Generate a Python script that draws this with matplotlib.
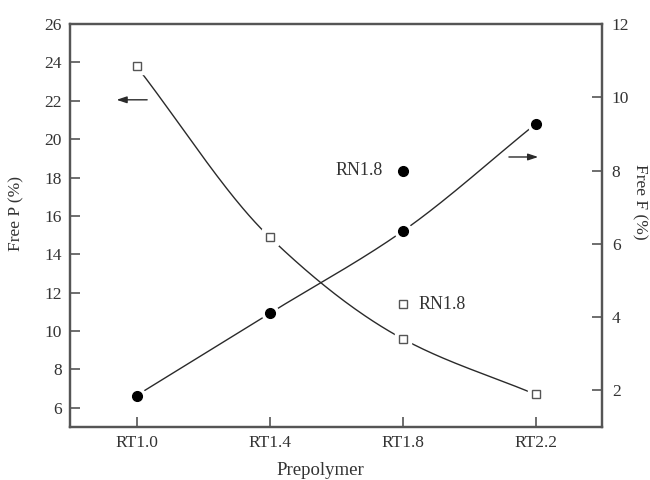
import numpy as np
import matplotlib
matplotlib.use("Agg")
import matplotlib.pyplot as plt

plt.rcParams["font.family"] = ["Liberation Serif", "DejaVu Serif"]

# Data
prepolymers = ["RT1.0", "RT1.4", "RT1.8", "RT2.2"]
free_p = [23.8, 14.9, 9.6, 6.7]      # Free P (%), left axis, open squares
free_f = [1.86, 4.1, 6.34, 9.27]     # Free F (%), right axis, filled circles
rn_label = "RN1.8"
rn_free_p = 11.4
rn_free_f = 8.0
rn_position = "RT1.8"

p_ticks = list(range(6, 27, 2))
f_ticks = list(range(2, 13, 2))

ink = "#2a2a2a"
text_col = "#333333"
spine_col = "#555555"


def smooth(xs, ys, n=200):
    """Monotone cubic (Fritsch-Carlson) curve through the points."""
    xs = np.asarray(xs, float)
    ys = np.asarray(ys, float)
    h = np.diff(xs)
    d = np.diff(ys) / h
    m = np.zeros_like(ys)
    m[0], m[-1] = d[0], d[-1]
    for i in range(1, len(xs) - 1):
        if d[i - 1] * d[i] > 0:
            w1 = 2 * h[i] + h[i - 1]
            w2 = h[i] + 2 * h[i - 1]
            m[i] = (w1 + w2) / (w1 / d[i - 1] + w2 / d[i])
    xx = np.linspace(xs[0], xs[-1], n)
    idx = np.clip(np.searchsorted(xs, xx) - 1, 0, len(xs) - 2)
    t = (xx - xs[idx]) / h[idx]
    h00 = 2 * t**3 - 3 * t**2 + 1
    h10 = t**3 - 2 * t**2 + t
    h01 = -2 * t**3 + 3 * t**2
    h11 = t**3 - t**2
    yy = (h00 * ys[idx] + h10 * h[idx] * m[idx]
          + h01 * ys[idx + 1] + h11 * h[idx] * m[idx + 1])
    return xx, yy


fig = plt.figure(figsize=(6.5, 4.8), dpi=100)
ax = fig.add_axes([0.1077, 0.1104, 0.8185, 0.8396])
ax2 = ax.twinx()

x = np.arange(len(prepolymers))
rn_x = prepolymers.index(rn_position)

# Free P curve (left axis)
xx, yy = smooth(x, free_p)
ax.plot(xx, yy, color=ink, lw=1.0, zorder=2)
ax.plot(x, free_p, ls="none", marker="s", ms=11, mfc="white", mec="white", zorder=3)
ax.plot(x, free_p, ls="none", marker="s", ms=6, mfc="white", mec="#555555",
        mew=1.0, zorder=4)
ax.plot([rn_x], [rn_free_p], ls="none", marker="s", ms=6, mfc="white",
        mec="#555555", mew=1.0, zorder=4)
ax.text(rn_x + 0.12, rn_free_p, rn_label, fontsize=13, color=text_col,
        va="center", ha="left")

# Free F curve (right axis)
xx, yy = smooth(x, free_f)
ax2.plot(xx, yy, color=ink, lw=1.0, zorder=2)
ax2.plot(x, free_f, ls="none", marker="o", ms=12, mfc="white", mec="white", zorder=3)
ax2.plot(x, free_f, ls="none", marker="o", ms=7, mfc="black", mec="black", zorder=4)
ax2.plot([rn_x], [rn_free_f], ls="none", marker="o", ms=7, mfc="black",
         mec="black", zorder=4)
ax2.text(rn_x - 0.15, rn_free_f, rn_label, fontsize=13, color=text_col,
         va="center", ha="right")

# Axis indicator arrows
ax.annotate("", xy=(-0.15, 22.05), xytext=(0.08, 22.05),
            arrowprops=dict(arrowstyle="-|>,head_length=0.6,head_width=0.2",
                            color=ink, lw=1.0, mutation_scale=10,
                            shrinkA=0, shrinkB=0))
ax2.annotate("", xy=(3.02, 8.37), xytext=(2.80, 8.37),
             arrowprops=dict(arrowstyle="-|>,head_length=0.6,head_width=0.2",
                             color=ink, lw=1.0, mutation_scale=10,
                             shrinkA=0, shrinkB=0))

ax.set_xlim(-0.5, 3.5)
ax.set_ylim(5, 26)
ax2.set_ylim(1, 12)
ax.set_xticks(x)
ax.set_xticklabels(prepolymers)
ax.set_yticks(p_ticks)
ax2.set_yticks(f_ticks)

for a in (ax, ax2):
    for s in a.spines.values():
        s.set_color(spine_col)
        s.set_linewidth(1.6)
    a.tick_params(direction="in", length=7, width=1.2, color=spine_col,
                  labelsize=12.5, labelcolor=text_col)
ax.tick_params(axis="x", pad=6)
ax.tick_params(axis="y", pad=6)
ax2.tick_params(axis="y", pad=7)

ax.set_xlabel("Prepolymer", fontsize=13.5, color=text_col, va="center")
ax.xaxis.set_label_coords(0.47, -0.108)
ax.set_ylabel("Free P (%)", fontsize=12.5, color=text_col, va="center")
ax.yaxis.set_label_coords(-0.1, 0.53)
ax2.set_ylabel("Free F (%)", fontsize=12.5, color=text_col, rotation=270,
               va="center")
ax2.yaxis.set_label_coords(1.07, 0.56)

fig.savefig("out.png", dpi=100)
